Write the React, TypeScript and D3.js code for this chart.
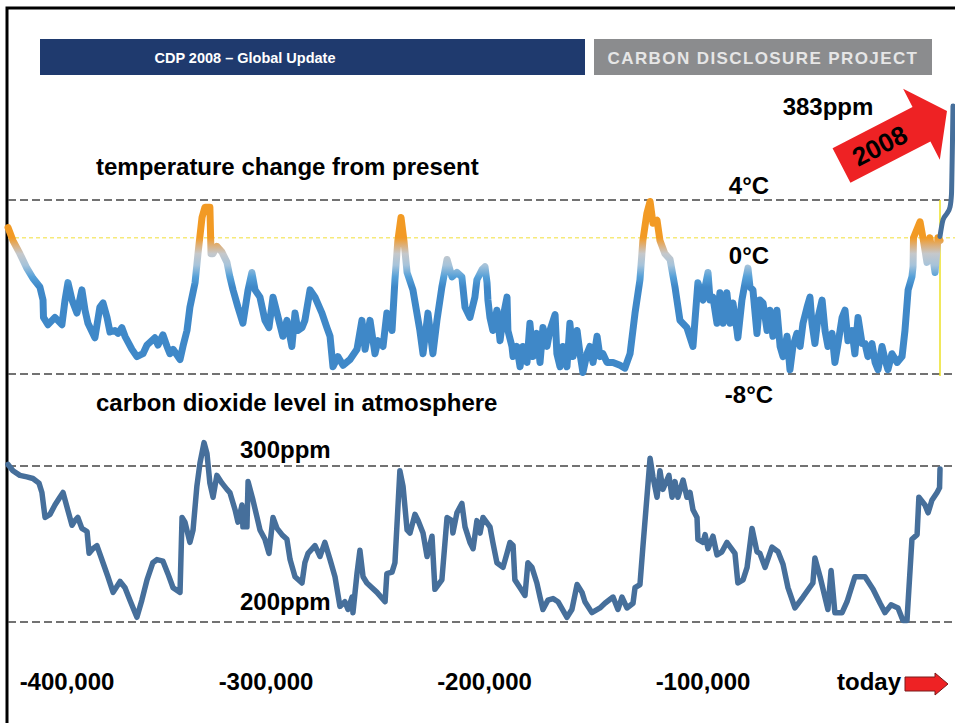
import React from 'react';
import * as d3 from 'd3';

const W = 955;
const H = 723;
const FONT = '"Liberation Sans", Arial, Helvetica, sans-serif';

// Vostok record: [thousand years before present, °C vs present]
const tempPoints: [number, number][] = [
  [-415, 2.1], [-412.8, 1.2], [-409.7, 0.3], [-406.6, -0.7], [-403.9, -1.4], [-400.8, -2.0], [-399.4, -2.9],
  [-399.2, -4.1], [-397.2, -4.6], [-394.1, -4.1], [-391.0, -4.6], [-389.6, -2.9], [-388.3, -1.7], [-386.5, -2.9],
  [-384.3, -3.8], [-382.1, -2.2], [-380.7, -3.6], [-379.4, -4.5], [-376.3, -5.5], [-374.1, -3.4], [-372.7, -3.1],
  [-370.9, -4.1], [-369.6, -5.1], [-367.4, -5.0], [-366.0, -5.2], [-364.3, -4.8], [-362.9, -5.4], [-359.8, -6.3],
  [-357.6, -6.8], [-354.9, -6.6], [-353.1, -6.0], [-349.6, -5.5], [-348.2, -6.0], [-346.0, -5.3], [-344.2, -6.1],
  [-342.9, -6.6], [-341.5, -6.3], [-338.4, -7.0], [-337.1, -6.1], [-335.3, -5.0], [-334.0, -3.4], [-331.7, -1.7],
  [-330.4, 0.3], [-328.6, 2.8], [-327.3, 3.5], [-325.1, 3.5], [-324.6, 0.3], [-323.7, 0.3], [-322.0, 0.8],
  [-319.7, 0.4], [-317.5, -0.3], [-316.2, -1.3], [-314.8, -2.2], [-312.6, -3.4], [-310.4, -4.5], [-308.1, -2.2],
  [-306.4, -1.0], [-305.0, -2.2], [-302.8, -2.7], [-300.6, -4.3], [-298.8, -4.8], [-297.0, -2.7], [-295.2, -3.8],
  [-292.6, -5.4], [-290.8, -4.3], [-288.6, -6.1], [-287.2, -3.8], [-285.9, -5.0], [-284.1, -4.8], [-282.8, -4.3],
  [-280.5, -2.2], [-278.3, -2.7], [-275.2, -3.8], [-273.0, -4.8], [-271.6, -5.4], [-270.3, -7.5], [-268.1, -6.8],
  [-265.8, -7.4], [-262.7, -7.0], [-259.6, -6.3], [-257.4, -4.3], [-256.0, -6.3], [-253.8, -4.3], [-251.6, -6.6],
  [-250.3, -5.7], [-248.0, -6.1], [-246.3, -3.8], [-244.0, -5.0], [-242.7, -1.5], [-241.4, 1.2], [-240.0, 2.8],
  [-238.7, 1.2], [-237.3, -1.0], [-234.7, -2.2], [-231.6, -5.0], [-230.2, -6.6], [-228.0, -3.8], [-225.8, -6.6],
  [-224.0, -4.3], [-221.8, -2.0], [-219.5, -0.1], [-217.3, -1.3], [-215.1, -1.0], [-212.9, -1.3], [-211.5, -3.4],
  [-209.3, -4.1], [-207.1, -2.7], [-206.2, -1.5], [-203.9, -0.8], [-202.6, -0.6], [-201.7, -1.7], [-201.3, -2.9],
  [-200.4, -4.1], [-199.1, -5.0], [-197.3, -3.6], [-195.9, -5.7], [-194.6, -4.1], [-192.8, -2.7], [-192.4, -5.0],
  [-190.6, -6.1], [-190.1, -6.8], [-188.4, -6.1], [-187.0, -7.5], [-185.7, -6.1], [-183.9, -7.2], [-182.6, -4.5],
  [-181.2, -6.8], [-179.5, -5.2], [-178.1, -7.2], [-176.8, -4.8], [-175.0, -6.1], [-173.7, -5.0], [-171.4, -3.9],
  [-170.6, -6.6], [-169.2, -7.5], [-167.9, -6.1], [-166.1, -7.5], [-164.8, -4.5], [-163.4, -6.8], [-161.6, -5.0],
  [-160.3, -6.6], [-159.0, -7.9], [-157.2, -6.6], [-155.9, -6.1], [-154.5, -7.2], [-152.7, -5.4], [-151.4, -6.8],
  [-150.1, -6.6], [-148.3, -7.2], [-145.6, -7.2], [-142.5, -7.4], [-140.3, -7.6], [-138.0, -6.6], [-135.8, -3.8],
  [-133.6, -1.5], [-132.3, 1.2], [-130.5, 3.1], [-129.1, 3.9], [-127.8, 2.4], [-126.0, 2.6], [-124.7, 1.2],
  [-122.5, 0.3], [-120.2, -0.1], [-118.0, -2.0], [-115.8, -4.3], [-112.7, -4.8], [-110.0, -6.1], [-107.8, -1.7],
  [-105.5, -2.9], [-104.6, -2.0], [-103.3, -1.0], [-102.4, -2.9], [-101.1, -2.7], [-99.3, -4.5], [-98.0, -2.4],
  [-96.6, -4.5], [-94.9, -2.4], [-93.5, -4.5], [-92.2, -3.1], [-90.4, -5.0], [-90.0, -5.5], [-88.2, -2.9],
  [-86.8, -1.7], [-85.5, -0.7], [-84.6, -2.0], [-83.3, -2.2], [-81.5, -5.2], [-80.2, -2.9], [-78.8, -3.1],
  [-77.0, -5.0], [-75.7, -3.6], [-74.4, -5.4], [-72.6, -3.6], [-71.2, -6.1], [-69.9, -6.8], [-68.1, -5.4],
  [-66.8, -7.7], [-65.5, -6.1], [-63.7, -5.2], [-62.3, -6.1], [-61.0, -4.5], [-59.2, -3.4], [-57.9, -2.7],
  [-57.0, -4.5], [-55.7, -5.9], [-54.3, -4.1], [-52.5, -2.9], [-51.2, -5.0], [-49.9, -6.1], [-48.1, -5.2],
  [-46.8, -7.2], [-45.4, -5.9], [-43.6, -4.1], [-42.3, -3.6], [-41.0, -5.7], [-39.2, -5.0], [-37.9, -6.6],
  [-36.5, -4.1], [-34.7, -5.9], [-33.4, -5.9], [-32.1, -6.8], [-30.3, -5.9], [-28.9, -7.2], [-27.6, -7.7],
  [-25.8, -6.1], [-24.5, -7.0], [-23.2, -7.7], [-21.4, -6.6], [-19.1, -7.2], [-16.9, -6.8], [-15.6, -5.0],
  [-14.2, -2.2], [-12.5, -1.3], [-12.0, -0.6], [-11.8, 1.4], [-8.9, 2.5], [-7.6, 1.4], [-5.8, -0.3],
  [-4.5, 1.4], [-2.2, -1.0], [-0.9, 1.4], [0, 1.2],
];

// [thousand years before present, ppm]
const co2Points: [number, number][] = [
  [-415, 301], [-412.8, 297], [-409.7, 294], [-406.6, 293], [-403.9, 292], [-401.2, 289], [-399.9, 283],
  [-398.5, 267], [-396.3, 269], [-394.1, 275], [-391.9, 280], [-390.5, 283], [-388.8, 274], [-386.5, 262],
  [-385.2, 265], [-383.9, 267], [-382.1, 260], [-379.8, 258], [-378.9, 244], [-377.2, 247], [-375.4, 249],
  [-372.7, 238], [-370.5, 229], [-368.2, 219], [-365.1, 226], [-362.9, 222], [-360.7, 214], [-357.6, 203],
  [-355.4, 214], [-353.1, 227], [-350.5, 238], [-348.7, 240], [-346.0, 239], [-343.8, 231], [-341.5, 222],
  [-338.4, 219], [-337.5, 267], [-336.2, 264], [-334.0, 251], [-332.6, 259], [-330.9, 287], [-329.5, 302],
  [-327.7, 315], [-326.4, 308], [-325.1, 289], [-323.7, 280], [-322.0, 294], [-319.7, 289], [-317.5, 285],
  [-316.2, 283], [-313.9, 272], [-312.6, 264], [-310.8, 275], [-310.4, 261], [-308.6, 261], [-308.1, 290],
  [-305.9, 278], [-304.1, 267], [-302.8, 259], [-300.6, 253], [-298.8, 244], [-297.0, 267], [-295.2, 260],
  [-293.0, 256], [-290.8, 253], [-289.4, 240], [-287.2, 229], [-284.1, 225], [-282.8, 238], [-281.4, 244],
  [-278.3, 249], [-276.1, 242], [-273.9, 251], [-271.6, 240], [-269.4, 229], [-267.2, 210], [-265.0, 213],
  [-263.6, 208], [-261.8, 216], [-261.4, 206], [-259.6, 231], [-258.3, 246], [-256.9, 229], [-255.2, 225],
  [-250.7, 219], [-247.1, 213], [-246.3, 231], [-244.0, 232], [-242.7, 238], [-240.5, 297], [-239.1, 287],
  [-237.3, 259], [-236.0, 257], [-233.8, 269], [-232.4, 265], [-230.2, 257], [-228.4, 242], [-226.2, 255],
  [-224.9, 221], [-221.8, 227], [-219.5, 267], [-217.3, 265], [-216.9, 257], [-215.1, 270], [-212.9, 276],
  [-211.5, 261], [-209.3, 251], [-207.9, 247], [-206.2, 265], [-204.8, 257], [-203.5, 267], [-200.4, 261],
  [-199.1, 251], [-197.3, 238], [-194.6, 235], [-192.8, 244], [-191.5, 251], [-190.1, 249], [-189.3, 227],
  [-187.0, 222], [-184.8, 217], [-183.5, 238], [-181.7, 235], [-179.5, 225], [-178.1, 216], [-176.8, 208],
  [-174.6, 214], [-172.3, 215], [-170.1, 213], [-166.1, 203], [-163.9, 208], [-161.6, 224], [-159.4, 219],
  [-158.1, 213], [-155.0, 206], [-151.4, 209], [-149.2, 212], [-145.6, 216], [-143.4, 208], [-141.6, 216],
  [-139.4, 209], [-136.7, 212], [-135.8, 222], [-133.6, 224], [-132.3, 248], [-130.5, 280], [-129.1, 305],
  [-127.8, 293], [-126.0, 280], [-124.7, 297], [-123.4, 285], [-120.7, 294], [-119.3, 280], [-118.0, 290],
  [-116.7, 280], [-114.4, 291], [-112.7, 280], [-111.3, 283], [-110.0, 272], [-108.2, 267], [-107.8, 253],
  [-105.5, 251], [-104.6, 256], [-103.3, 247], [-101.1, 255], [-99.3, 243], [-97.1, 245], [-94.9, 251],
  [-91.3, 244], [-90.0, 225], [-87.7, 227], [-85.9, 235], [-83.7, 260], [-81.5, 245], [-80.2, 244],
  [-77.9, 235], [-74.8, 248], [-72.1, 245], [-69.9, 237], [-67.7, 222], [-64.6, 209], [-61.0, 216],
  [-56.6, 225], [-55.7, 241], [-53.4, 229], [-49.9, 208], [-48.5, 233], [-46.8, 206], [-43.6, 206],
  [-41.4, 213], [-37.9, 229], [-33.4, 229], [-29.8, 221], [-26.7, 212], [-24.5, 206], [-21.8, 211],
  [-18.7, 209], [-16.5, 201], [-14.7, 201], [-12.5, 253], [-10.2, 256], [-9.4, 280], [-6.7, 275],
  [-5.3, 270], [-3.6, 278], [-1.3, 283], [-0.2, 286], [0, 298],
];

// industrial rise drawn past "today": [year CE, ppm]
const industrialPoints: [number, number][] = [
  [1750, 281], [1810, 294], [1889, 299], [1949, 304], [1978, 314], [1988, 333], [1998, 356], [2008, 383],
];

const timeTicks = [-400, -300, -200, -100];
const tempRefLines = [4, -8];
const presentTemp = 1.4;
const co2RefLines = [300, 200];

const tempLabels = [
  { v: 4, text: '4°C', dy: -6 },
  { v: 0, text: '0°C', dy: 6 },
  { v: -8, text: '-8°C', dy: 29 },
];
const co2Labels = [
  { v: 300, text: '300ppm', dy: -8 },
  { v: 200, text: '200ppm', dy: -12 },
];

// colour of the temperature trace by value
const tempColors: [number, string][] = [
  [1.4, '#f29a24'],
  [0.85, '#dcb07c'],
  [0.3, '#c5c8cb'],
  [-0.5, '#a6c3da'],
  [-1.3, '#55a0d8'],
  [-2.0, '#3f88c8'],
];

const x = d3.scaleLinear().domain([-415, 0]).range([8, 940]);
const tickX = d3.scaleLinear().domain([-300, -100]).range([266, 703]);
const tempY = d3.scaleLinear().domain([-8, 4]).range([374, 200]);
const co2Y = d3.scaleLinear().domain([200, 300]).range([622, 466]);
const spikeX = d3.scaleLinear().domain([1750, 2008]).range([x(0), x(0) + 13]);
const spikeY = d3.scaleLinear().domain([280, 383]).range([tempY(presentTemp), 106]);

const tempLine = d3.line<[number, number]>().x((d) => x(d[0])).y((d) => tempY(d[1]));
const co2Line = d3.line<[number, number]>().x((d) => x(d[0])).y((d) => co2Y(d[1]));
const spikeLine = d3
  .line<[number, number]>()
  .x((d) => spikeX(d[0]))
  .y((d) => spikeY(d[1]))
  .curve(d3.curveMonotoneX);

const fmt = d3.format(',');

const App = () => {
  const g0 = tempY(4);
  const g1 = tempY(-8);
  const arrowAngle = -27.3;
  const todayTip = x(0) + 8;

  return (
    <svg
      width={W}
      height={H}
      style={{ position: 'absolute', left: 0, top: 0, background: '#fff' }}
      fontFamily={FONT}
      fontWeight="bold"
    >
      <defs>
        <linearGradient id="tempGrad" gradientUnits="userSpaceOnUse" x1={0} x2={0} y1={g0} y2={g1}>
          {tempColors.map(([v, c]) => (
            <stop key={v} offset={(tempY(v) - g0) / (g1 - g0)} stopColor={c} />
          ))}
        </linearGradient>
      </defs>

      <rect x={0} y={0} width={W} height={H} fill="#fff" />
      <path d={`M7,${H} V8 H${W}`} fill="none" stroke="#000" strokeWidth={3} />

      {/* header */}
      <rect x={40} y={39} width={545} height={36} fill="#1f3a6e" />
      <text x={245} y={63} fill="#fff" fontSize={14.5} textAnchor="middle">
        CDP 2008 – Global Update
      </text>
      <rect x={594} y={39} width={338} height={36} fill="#8b8c8e" />
      <text x={763} y={63.5} fill="#e6e6e6" fontSize={17} letterSpacing={1.4} textAnchor="middle">
        CARBON DISCLOSURE PROJECT
      </text>

      {/* temperature panel */}
      <text x={96} y={175} fontSize={24} fill="#000">temperature change from present</text>
      {tempRefLines.map((v) => (
        <line key={v} x1={x.range()[0]} x2={W} y1={tempY(v)} y2={tempY(v)} stroke="#444" strokeWidth={1.3} strokeDasharray="8 4" />
      ))}
      <line x1={x.range()[0]} x2={W} y1={tempY(presentTemp)} y2={tempY(presentTemp)} stroke="#f6ea7a" strokeWidth={1.5} strokeDasharray="4 3" />
      <line x1={x(0)} x2={x(0)} y1={tempY(4)} y2={tempY(-8) + 2} stroke="#ede025" strokeWidth={1.5} />
      <path d={tempLine(tempPoints) ?? ''} fill="none" stroke="url(#tempGrad)" strokeWidth={7} strokeLinejoin="round" strokeLinecap="round" />
      {tempLabels.map((l) => (
        <text key={l.text} x={749} y={tempY(l.v) + l.dy} fontSize={24} textAnchor="middle" fill="#000">
          {l.text}
        </text>
      ))}

      {/* carbon dioxide panel */}
      <text x={96} y={411} fontSize={24} fill="#000">carbon dioxide level in atmosphere</text>
      {co2RefLines.map((v) => (
        <line key={v} x1={x.range()[0]} x2={W} y1={co2Y(v)} y2={co2Y(v)} stroke="#444" strokeWidth={1.3} strokeDasharray="8 4" />
      ))}
      <path d={co2Line(co2Points) ?? ''} fill="none" stroke="#466f9b" strokeWidth={5.5} strokeLinejoin="round" strokeLinecap="round" />
      {co2Labels.map((l) => (
        <text key={l.text} x={240} y={co2Y(l.v) + l.dy} fontSize={24} fill="#000">
          {l.text}
        </text>
      ))}

      {/* industrial era */}
      <path d={spikeLine(industrialPoints) ?? ''} fill="none" stroke="#466f9b" strokeWidth={5} strokeLinecap="round" />
      <text x={828} y={115} fontSize={24} textAnchor="middle" fill="#000">
        {industrialPoints[industrialPoints.length - 1][1]}ppm
      </text>
      <g transform={`translate(841.5,165.5) rotate(${arrowAngle})`}>
        <polygon points="0,-19.5 90,-19.5 90,-40 118.7,0 90,40 90,19.5 0,19.5" fill="#ee2224" />
        <text x={43} y={9} fontSize={26} textAnchor="middle" fill="#000">
          {industrialPoints[industrialPoints.length - 1][0]}
        </text>
      </g>

      {/* time axis */}
      {timeTicks.map((t) => (
        <text key={t} x={Math.max(tickX(t), 67)} y={690} fontSize={24} textAnchor="middle" fill="#000">
          {fmt(t * 1000).replace('−', '-')}
        </text>
      ))}
      <text x={todayTip - 47} y={690} fontSize={24} textAnchor="end" fill="#000">today</text>
      <g transform={`translate(${todayTip - 43},684)`}>
        <polygon points="0,-7 30,-7 30,-11 43,0 30,11 30,7 0,7" fill="#ee2224" stroke="#7a1a1a" strokeWidth={1} />
      </g>
    </svg>
  );
};

export default App;
